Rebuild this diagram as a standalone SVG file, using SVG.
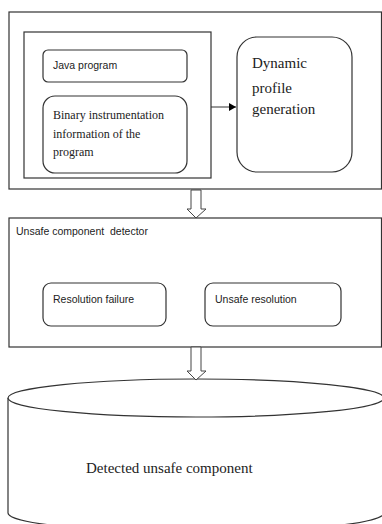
<svg xmlns="http://www.w3.org/2000/svg" width="382" height="524" viewBox="0 0 382 524">
<defs>
<marker id="ah" markerWidth="8" markerHeight="8" refX="7" refY="4" orient="auto" markerUnits="userSpaceOnUse">
<path d="M0,0 L7,4 L0,8 Z" fill="#000"/>
</marker>
<style>
.box{fill:#fff;stroke:#333;stroke-width:1.2}
.sans{font-family:"Liberation Sans",Arial,sans-serif;font-size:10.5px;fill:#222;white-space:pre}
.serif{font-family:"Liberation Serif","Times New Roman",serif;fill:#222}
.hollow{fill:#fff;stroke:#444;stroke-width:1}
</style>
</defs>
<rect width="382" height="524" fill="#fff"/>
<g id="stage1">
<rect class="box" x="9" y="12" width="372.5" height="177"/>
</g>
<g id="input-group">
<rect class="box" x="24" y="32" width="187" height="146"/>
</g>
<g id="java-program">
<rect class="box" x="43" y="50" width="144" height="32" rx="5"/>
<text class="sans" x="53" y="69">Java program</text>
</g>
<g id="binary-info">
<rect class="box" x="43" y="96" width="144" height="77" rx="12"/>
<text class="serif" font-size="12" x="53" y="119">Binary instrumentation</text>
<text class="serif" font-size="12" x="53" y="138">information of the</text>
<text class="serif" font-size="12" x="53" y="156">program</text>
</g>
<g id="dynamic-profile">
<rect class="box" x="237" y="37" width="115" height="135" rx="20"/>
<text class="serif" font-size="15" x="252" y="68">Dynamic</text>
<text class="serif" font-size="15" x="252" y="93">profile</text>
<text class="serif" font-size="15" x="252" y="114">generation</text>
</g>
<g id="detector">
<rect class="box" x="9" y="218" width="372.5" height="129"/>
<text class="sans" x="16" y="235" xml:space="preserve">Unsafe component  detector</text>
</g>
<g id="resolution-failure">
<rect class="box" x="43" y="283" width="123" height="43" rx="8"/>
<text class="sans" x="53" y="303">Resolution failure</text>
</g>
<g id="unsafe-resolution">
<rect class="box" x="205" y="283" width="136" height="43" rx="8"/>
<text class="sans" x="215" y="303">Unsafe resolution</text>
</g>
<g id="detected-component">
<path class="box" d="M8,398 L8,513 A188,19 0 0 0 384,513 L384,398"/>
<ellipse class="box" cx="196" cy="398" rx="188" ry="19"/>
<text class="serif" font-size="15" x="86" y="473">Detected unsafe component</text>
</g>
<g id="connectors">
<line x1="211" y1="107" x2="236" y2="107" stroke="#333" stroke-width="1" marker-end="url(#ah)"/>
<path class="hollow" d="M191,190 L201,190 L201,209 L206,209 L196,218 L187,209 L191,209 Z"/>
<path class="hollow" d="M191,347 L201,347 L201,371 L206,371 L196,380 L187,371 L191,371 Z"/>
</g>
</svg>
